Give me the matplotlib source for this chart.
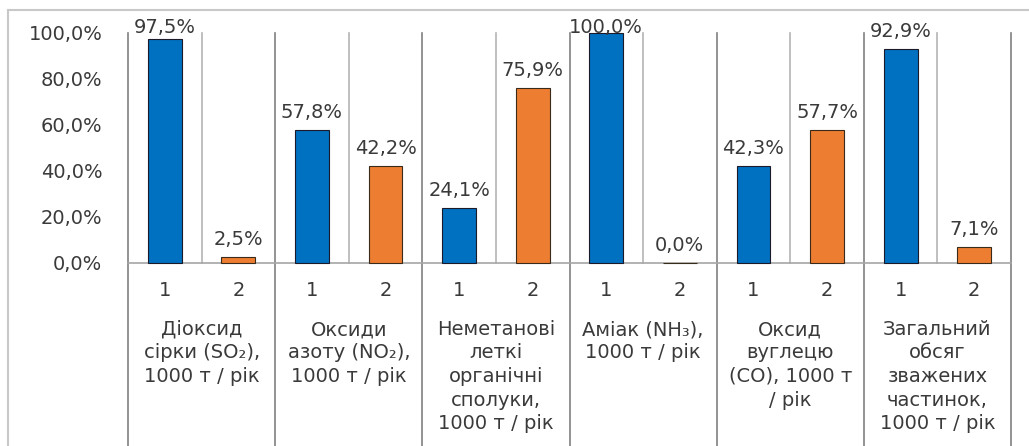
import matplotlib
matplotlib.use("Agg")
import matplotlib.pyplot as plt
from matplotlib.lines import Line2D
import matplotlib.transforms as mtransforms

categories = [
    "Діоксид\nсірки (SO₂),\n1000 т / рік",
    "Оксиди\nазоту (NO₂),\n1000 т / рік",
    "Неметанові\nлеткі\nорганічні\nсполуки,\n1000 т / рік",
    "Аміак (NH₃),\n1000 т / рік",
    "Оксид\nвуглецю\n(CO), 1000 т\n/ рік",
    "Загальний\nобсяг\nзважених\nчастинок,\n1000 т / рік",
]
sub_labels = ["1", "2"]
series1 = [97.5, 57.8, 24.1, 100.0, 42.3, 92.9]
series2 = [2.5, 42.2, 75.9, 0.0, 57.7, 7.1]
yticks = [0, 20, 40, 60, 80, 100]

BLUE = "#0070C0"
ORANGE = "#ED7D31"
TXT = "#3a3a3a"
FS = 14

plt.rcParams["font.family"] = ["DejaVu Sans"]

W, H = 1029, 446
fig = plt.figure(figsize=(W / 100, H / 100), dpi=100)
fig.patch.set_facecolor("white")

x0, x1 = 128, 1011
y0, y1 = 263, 33
ax = fig.add_axes([x0 / W, (H - y0) / H, (x1 - x0) / W, (y0 - y1) / H])
ax.set_xlim(-0.5, 2 * len(categories) - 0.5)
ax.set_ylim(0, 100)

for i, (a, b) in enumerate(zip(series1, series2)):
    ax.bar(2 * i, a, width=0.46, color=BLUE, edgecolor="#1a1a2a", linewidth=0.8,
           zorder=3, clip_on=False)
    ax.bar(2 * i + 1, b, width=0.46, color=ORANGE, edgecolor="#3a2a1a", linewidth=0.8,
           zorder=3, clip_on=False)
    for xpos, v in ((2 * i, a), (2 * i + 1, b)):
        ax.text(xpos, min(v + 5.2, 100.0), f"{v:.1f}%".replace(".", ","),
                ha="center", va="baseline", fontsize=FS, color=TXT, clip_on=False, zorder=4)

for s in ["top", "right", "left"]:
    ax.spines[s].set_visible(False)
ax.spines["bottom"].set_color("#a6a6a6")
ax.spines["bottom"].set_linewidth(1.2)
ax.spines["bottom"].set_zorder(2)
ax.set_xticks([])
ax.set_yticks(yticks)
ax.set_yticklabels([f"{t:.1f}%".replace(".", ",") for t in yticks], fontsize=FS, color=TXT)
ax.tick_params(axis="y", length=0, pad=18.5)

trans = mtransforms.blended_transform_factory(ax.transData, ax.transAxes)
bottom_ax = -(H - y0) / (y0 - y1)
# group separators (full height)
for g in range(len(categories) + 1):
    xg = 2 * g - 0.5
    ax.add_line(Line2D([xg, xg], [1, bottom_ax], transform=trans, color="#808080",
                       linewidth=1.2, clip_on=False, zorder=1))
# sub separators (plot area only)
for g in range(len(categories)):
    xs = 2 * g + 0.5
    ax.add_line(Line2D([xs, xs], [0, 1], transform=trans, color="#b4b4b4",
                       linewidth=1.2, clip_on=False, zorder=1))

# sub tick labels and category labels
for g, cat in enumerate(categories):
    for k, lab in enumerate(sub_labels):
        ax.text(2 * g + k, -(290 - y0) / (y0 - y1), lab, transform=trans,
                ha="center", va="center", fontsize=FS, color=TXT)
    ax.text(2 * g + 0.5, -(320 - y0) / (y0 - y1), cat, transform=trans,
            ha="center", va="top", fontsize=FS, color=TXT, linespacing=1.3,
            multialignment="center")

# outer frame (top and left)
fig.add_artist(Line2D([8 / W, 1], [1 - 10 / H, 1 - 10 / H], transform=fig.transFigure,
                      color="#c8c8c8", linewidth=1.5))
fig.add_artist(Line2D([8 / W, 8 / W], [0, 1 - 10 / H], transform=fig.transFigure,
                      color="#c8c8c8", linewidth=1.5))

fig.savefig("out.png", dpi=100)
